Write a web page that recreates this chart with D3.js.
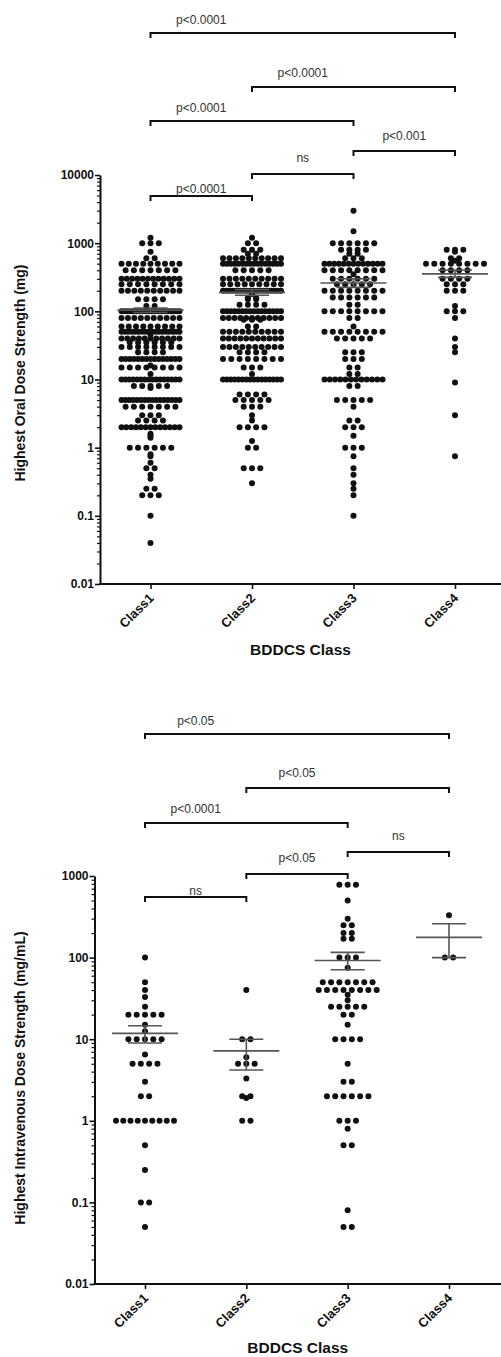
<!DOCTYPE html>
<html>
<head>
<meta charset="utf-8">
<script src="https://cdn.jsdelivr.net/npm/d3@7"></script>
<style>
  body { margin: 0; background: #fff; }
  svg { display: block; font-family: "Liberation Sans", Arial, sans-serif; }
</style>
</head>
<body>
<div id="chart"></div>
<script>
var W = 501, H = 1357;

var classes = ["Class1", "Class2", "Class3", "Class4"];

// oral dose strength (mg): [value, number of drugs]
var oralClass1 = [[1200,1],[1000,3],[750,1],[600,2],[500,9],[400,7],[300,12],[250,8],[200,10],[150,4],[120,2],
  [100,20],[80,10],[60,9],[50,18],[45,1],[40,11],[35,6],[30,8],[25,4],[20,15],[16,1],[15,8],[12,1],[10,16],
  [8,5],[7.5,1],[5,16],[4,7],[3,3],[2.5,4],[2,13],[1.6,1],[1.5,1],[1.4,1],[1,6],[0.8,1],[0.75,1],[0.6,1],
  [0.5,2],[0.4,1],[0.35,1],[0.25,2],[0.2,3],[0.1,1],[0.04,1]];
var oralClass2 = [[1200,1],[1000,2],[800,3],[700,2],[600,10],[500,16],[400,5],[300,10],[250,9],[200,18],[180,1],
  [160,2],[150,2],[125,4],[100,16],[80,11],[75,3],[60,2],[50,10],[40,11],[30,10],[25,4],[20,8],[15,3],[12,1],
  [10,16],[6,4],[5,5],[4,3],[3,1],[2.5,1],[2,4],[1.25,1],[1,2],[0.5,3],[0.3,1]];
var oralClass3 = [[3000,1],[1500,1],[1000,6],[800,4],[700,2],[600,3],[500,13],[400,8],[350,1],[300,6],[250,5],
  [200,8],[160,6],[125,2],[100,8],[80,2],[60,1],[50,8],[40,5],[25,3],[20,3],[15,2],[12,2],[10,12],[8,2],[5,5],
  [4,1],[2.5,2],[2,3],[1.5,1],[1,3],[0.75,1],[0.5,1],[0.4,1],[0.3,1],[0.25,1],[0.2,1],[0.1,1]];
var oralClass4 = [[800,3],[750,1],[600,2],[550,1],[500,8],[400,4],[300,4],[250,3],[200,3],[120,1],[100,3],[80,1],
  [40,1],[30,1],[25,1],[9,1],[3,1],[0.75,1]];
var oralMean = [104, 190, 260, 355];
var oralSemHi = [112, 208, 300, 405];
var oralSemLo = [96, 172, 225, 315];
var oralTicks = [0.01, 0.1, 1, 10, 100, 1000, 10000];
var oralTickLabels = ["0.01", "0.1", "1", "10", "100", "1000", "10000"];
var oralCompare = [[1,4,"p<0.0001"],[2,4,"p<0.0001"],[1,3,"p<0.0001"],[3,4,"p<0.001"],[2,3,"ns"],[1,2,"p<0.0001"]];

// intravenous dose strength (mg/mL)
var ivClass1 = [[100,1],[50,1],[40,1],[33,1],[25,1],[20,5],[15,1],[12.5,1],[10,5],[6.5,1],[5,4],[3,1],[2,2],
  [1,9],[0.5,1],[0.25,1],[0.1,2],[0.05,1]];
var ivClass2 = [[40,1],[10,2],[6,1],[5,3],[3.3,1],[2,2],[1.9,1],[1,2]];
var ivClass3 = [[780,3],[500,1],[300,1],[250,2],[200,2],[170,2],[100,3],[75,1],[50,7],[40,8],[35,1],[30,1],
  [25,5],[20,2],[15,1],[10,4],[5,1],[3,2],[2,6],[1,3],[0.8,1],[0.5,2],[0.08,1],[0.05,2]];
var ivClass4 = [[330,1],[100,2]];
var ivMean = [11.8, 7.2, 92, 177];
var ivSemHi = [14.6, 10, 116, 260];
var ivSemLo = [9.0, 4.2, 71, 100];
var ivTicks = [0.01, 0.1, 1, 10, 100, 1000];
var ivTickLabels = ["0.01", "0.1", "1", "10", "100", "1000"];
var ivCompare = [[1,4,"p<0.05"],[2,4,"p<0.05"],[1,3,"p<0.0001"],[3,4,"ns"],[2,3,"p<0.05"],[1,2,"ns"]];

var panels = [
  { groups: [oralClass1, oralClass2, oralClass3, oralClass4],
    mean: oralMean, hi: oralSemHi, lo: oralSemLo,
    ticks: oralTicks, tickLabels: oralTickLabels, compare: oralCompare,
    ylabel: "Highest Oral Dose Strength (mg)",
    axisX: 100, yRange: [584, 175], xRange: [150.5, 455],
    bracketY: [33, 87, 121, 151, 174, 196], textDy: [-9, -10, -9, -11, -12, -3],
    titleY: 655, labelCy: 373 },
  { groups: [ivClass1, ivClass2, ivClass3, ivClass4],
    mean: ivMean, hi: ivSemHi, lo: ivSemLo,
    ticks: ivTicks, tickLabels: ivTickLabels, compare: ivCompare,
    ylabel: "Highest Intravenous Dose Strength (mg/mL)",
    axisX: 94.5, yRange: [1284, 876], xRange: [145, 449],
    bracketY: [734, 788, 823, 852, 874, 897], textDy: [-9, -11, -10, -12, -12, -2],
    titleY: 1353, labelCy: 1078 }
];

var svg = d3.select("#chart").append("svg")
  .attr("width", W)
  .attr("height", H);

var r = 3.0, pitch = 8.3, maxHalf = 29;

panels.forEach(function(p) {
  var y = d3.scaleLog()
    .domain([p.ticks[0], p.ticks[p.ticks.length - 1]])
    .range(p.yRange);
  var x = d3.scalePoint()
    .domain(classes)
    .range(p.xRange);

  var g = svg.append("g");

  // dots, one row per value
  p.groups.forEach(function(rows, ci) {
    var cx = x(classes[ci]);
    var pts = [];
    rows.forEach(function(d) {
      var n = d[1];
      var step = n > 1 ? Math.min(pitch, 2 * maxHalf / (n - 1)) : 0;
      for (var i = 0; i < n; i++) {
        pts.push({ x: cx + (i - (n - 1) / 2) * step, y: y(d[0]) });
      }
    });
    g.append("g").selectAll("circle")
      .data(pts)
      .enter().append("circle")
      .attr("cx", function(d) { return d.x; })
      .attr("cy", function(d) { return d.y; })
      .attr("r", r)
      .attr("fill", "#111");
  });

  // mean +/- SEM
  var stats = g.append("g").attr("stroke", "#555").attr("stroke-width", 1.6);
  classes.forEach(function(c, i) {
    var cx = x(c);
    stats.append("line").attr("x1", cx - 33).attr("x2", cx + 33)
      .attr("y1", y(p.mean[i])).attr("y2", y(p.mean[i]));
    stats.append("line").attr("x1", cx).attr("x2", cx)
      .attr("y1", y(p.hi[i])).attr("y2", y(p.lo[i]));
    [p.hi[i], p.lo[i]].forEach(function(v) {
      stats.append("line").attr("x1", cx - 17).attr("x2", cx + 17)
        .attr("y1", y(v)).attr("y2", y(v));
    });
  });

  // y axis, major and minor ticks
  var minor = [];
  for (var e = Math.log10(p.ticks[0]); e < Math.log10(p.ticks[p.ticks.length - 1]); e++) {
    for (var k = 2; k < 10; k++) minor.push(k * Math.pow(10, e));
  }
  var yAxis = g.append("g")
    .attr("transform", "translate(" + p.axisX + ",0)")
    .call(d3.axisLeft(y).tickValues(p.ticks)
      .tickFormat(function(d, i) { return p.tickLabels[i]; })
      .tickSize(5).tickSizeOuter(0).tickPadding(1));
  yAxis.select(".domain").attr("stroke-width", 2).attr("stroke", "#111");
  yAxis.selectAll(".tick line").attr("stroke-width", 1.6).attr("stroke", "#111");
  yAxis.selectAll("text")
    .style("font-size", "12px").style("font-weight", "bold").attr("fill", "#111");

  g.append("g")
    .attr("transform", "translate(" + p.axisX + ",0)")
    .call(d3.axisLeft(y).tickValues(minor).tickFormat("").tickSize(3).tickSizeOuter(0))
    .call(function(s) { s.select(".domain").remove(); })
    .selectAll(".tick line").attr("stroke-width", 1.2).attr("stroke", "#111");

  // x axis
  var base = p.yRange[0];
  g.append("line")
    .attr("x1", p.axisX - 1).attr("x2", W)
    .attr("y1", base).attr("y2", base)
    .attr("stroke", "#111").attr("stroke-width", 2);
  var xAxis = g.append("g")
    .attr("transform", "translate(0," + base + ")")
    .call(d3.axisBottom(x).tickSize(5).tickSizeOuter(0).tickFormat(""));
  xAxis.select(".domain").remove();
  xAxis.selectAll(".tick line").attr("stroke-width", 1.6).attr("stroke", "#111");

  g.selectAll(".xlab")
    .data(classes)
    .enter().append("text")
    .attr("transform", function(d) { return "translate(" + (x(d) + 4) + "," + (base + 15) + ") rotate(-45)"; })
    .attr("text-anchor", "end")
    .style("font-size", "13px").style("font-weight", "bold")
    .attr("fill", "#111")
    .text(function(d) { return d; });

  g.append("text")
    .attr("x", (p.axisX + W) / 2)
    .attr("y", p.titleY)
    .attr("text-anchor", "middle")
    .style("font-size", "15.5px").style("font-weight", "bold")
    .attr("fill", "#111")
    .text("BDDCS Class");

  g.append("text")
    .attr("transform", "translate(25," + p.labelCy + ") rotate(-90)")
    .attr("text-anchor", "middle")
    .style("font-size", "14px").style("font-weight", "bold")
    .attr("fill", "#111")
    .text(p.ylabel);

  // significance brackets
  p.compare.forEach(function(c, i) {
    var x1 = x(classes[c[0] - 1]), x2 = x(classes[c[1] - 1]);
    var by = p.bracketY[i];
    g.append("path")
      .attr("d", "M" + x1 + "," + (by + 5) + "V" + by + "H" + x2 + "V" + (by + 5))
      .attr("fill", "none")
      .attr("stroke", "#111")
      .attr("stroke-width", 2);
    var tx = (x1 + x(classes[c[0]])) / 2;
    g.append("text")
      .attr("x", tx)
      .attr("y", by + p.textDy[i])
      .attr("text-anchor", "middle")
      .style("font-size", "12px")
      .attr("fill", "#333")
      .text(c[2]);
  });
});
</script>
</body>
</html>
